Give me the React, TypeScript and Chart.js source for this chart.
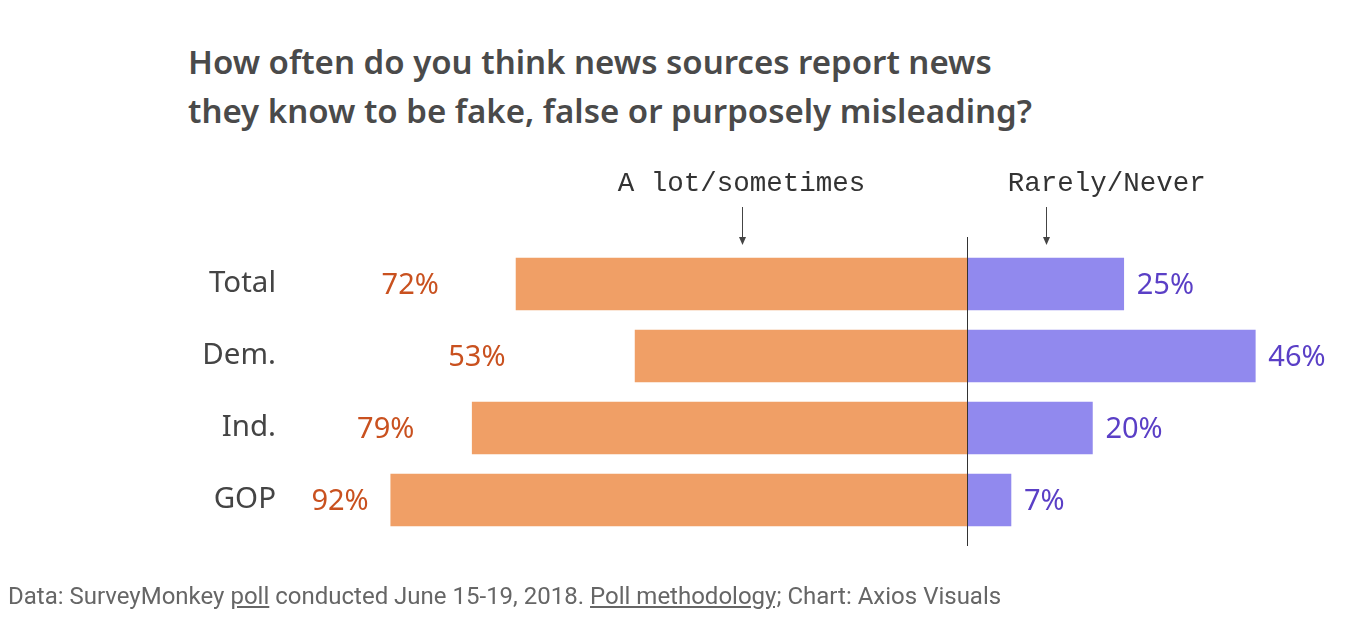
import React, { useEffect, useRef } from "react";
import { Chart, registerables } from "chart.js";

Chart.register(...registerables);

const categories = ["Total", "Dem.", "Ind.", "GOP"];
const aLotSometimes = [72, 53, 79, 92];
const rarelyNever = [25, 46, 20, 7];
const seriesNames = ["A lot/sometimes", "Rarely/Never"];

const TITLE_LINES = [
  "How often do you think news sources report news",
  "they know to be fake, false or purposely misleading?",
];

const ORANGE = "#f09f66";
const PURPLE = "#9189ee";
const ORANGE_TEXT = "#c9511f";
const PURPLE_TEXT = "#5a3fc6";
const SANS = "'Noto Sans', 'Open Sans', sans-serif";

const overlayPlugin = {
  id: "overlay",
  afterDatasetsDraw(chart: any) {
    const { ctx, chartArea, scales } = chart;
    const x = scales.x;
    const y = scales.y;
    const zero = x.getPixelForValue(0);
    ctx.save();
    // center line
    ctx.strokeStyle = "#333333";
    ctx.lineWidth = 1;
    ctx.beginPath();
    ctx.moveTo(Math.round(zero) + 0.5, chartArea.top - 11);
    ctx.lineTo(Math.round(zero) + 0.5, chartArea.bottom + 10);
    ctx.stroke();

    // value labels
    ctx.font = `29px ${SANS}`;
    ctx.textBaseline = "middle";
    categories.forEach((_, i) => {
      const cy = y.getPixelForValue(i) + 2;
      const lv = aLotSometimes[i];
      ctx.fillStyle = ORANGE_TEXT;
      ctx.textAlign = "right";
      ctx.fillText(`${lv}%`, x.getPixelForValue(-(44 + 0.56 * lv)), cy);
      const rv = rarelyNever[i];
      ctx.fillStyle = PURPLE_TEXT;
      ctx.textAlign = "left";
      ctx.fillText(`${rv}%`, x.getPixelForValue(rv) + 13, cy);
    });

    // series headers with arrows
    ctx.font = "27.5px 'Liberation Mono', 'DejaVu Sans Mono', monospace";
    ctx.fillStyle = "#333333";
    ctx.textAlign = "center";
    ctx.textBaseline = "middle";
    ctx.fillText(seriesNames[0], x.getPixelForValue(-36), 184);
    ctx.fillText(seriesNames[1], x.getPixelForValue(22.3), 184);

    const arrow = (ax: number) => {
      const px = Math.round(ax) + 0.5;
      ctx.strokeStyle = "#444444";
      ctx.fillStyle = "#444444";
      ctx.lineWidth = 1;
      ctx.beginPath();
      ctx.moveTo(px, 207);
      ctx.lineTo(px, 243);
      ctx.stroke();
      ctx.beginPath();
      ctx.moveTo(px - 3.5, 237);
      ctx.lineTo(px + 3.5, 237);
      ctx.lineTo(px, 245);
      ctx.closePath();
      ctx.fill();
    };
    arrow(x.getPixelForValue(-36));
    arrow(x.getPixelForValue(12.6));
    ctx.restore();
  },
};

export default function App() {
  const ref = useRef<HTMLCanvasElement>(null);

  useEffect(() => {
    document.body.style.margin = "0";
    const chart = new Chart(ref.current!, {
      type: "bar",
      data: {
        labels: categories,
        datasets: [
          {
            label: seriesNames[0],
            data: aLotSometimes.map((v) => -v),
            backgroundColor: ORANGE,
            borderWidth: 0,
            barThickness: 52,
          },
          {
            label: seriesNames[1],
            data: rarelyNever,
            backgroundColor: PURPLE,
            borderWidth: 0,
            barThickness: 52,
          },
        ],
      },
      options: {
        indexAxis: "y",
        animation: false,
        responsive: false,
        maintainAspectRatio: false,
        layout: { padding: { left: 0, right: 3, top: 248, bottom: 98 } },
        plugins: {
          legend: { display: false },
          tooltip: { enabled: false },
        },
        scales: {
          x: {
            stacked: true,
            min: -110,
            max: 60,
            display: false,
          },
          y: {
            stacked: true,
            grid: { display: false, drawTicks: false },
            border: { display: false },
            ticks: {
              padding: 2,
              color: "#444444",
              font: { family: SANS, size: 29.5 },
            },
            afterFit(scale: any) {
              scale.width = 278;
            },
          },
        },
      },
      plugins: [overlayPlugin],
    });
    return () => chart.destroy();
  }, []);

  return (
    <div style={{ position: "relative", width: 1346, height: 634, background: "#fff" }}>
      <div
        style={{
          position: "absolute",
          left: 188,
          top: 37,
          fontFamily: SANS,
          fontWeight: 600,
          fontSize: 33,
          lineHeight: "49px",
          color: "#4a4a4a",
          whiteSpace: "nowrap",
        }}
      >
        {TITLE_LINES[0]}
        <br />
        {TITLE_LINES[1]}
      </div>
      <canvas ref={ref} width={1346} height={634} style={{ position: "absolute", left: 0, top: 0 }} />
      <div
        style={{
          position: "absolute",
          left: 8,
          top: 580,
          fontFamily: "Roboto, 'Noto Sans', sans-serif",
          fontSize: 24,
          lineHeight: "32px",
          color: "#666666",
          whiteSpace: "nowrap",
        }}
      >
        Data: SurveyMonkey <span style={{ textDecoration: "underline" }}>poll</span> conducted June 15-19,
        2018. <span style={{ textDecoration: "underline" }}>Poll methodology;</span> Chart: Axios Visuals
      </div>
    </div>
  );
}
